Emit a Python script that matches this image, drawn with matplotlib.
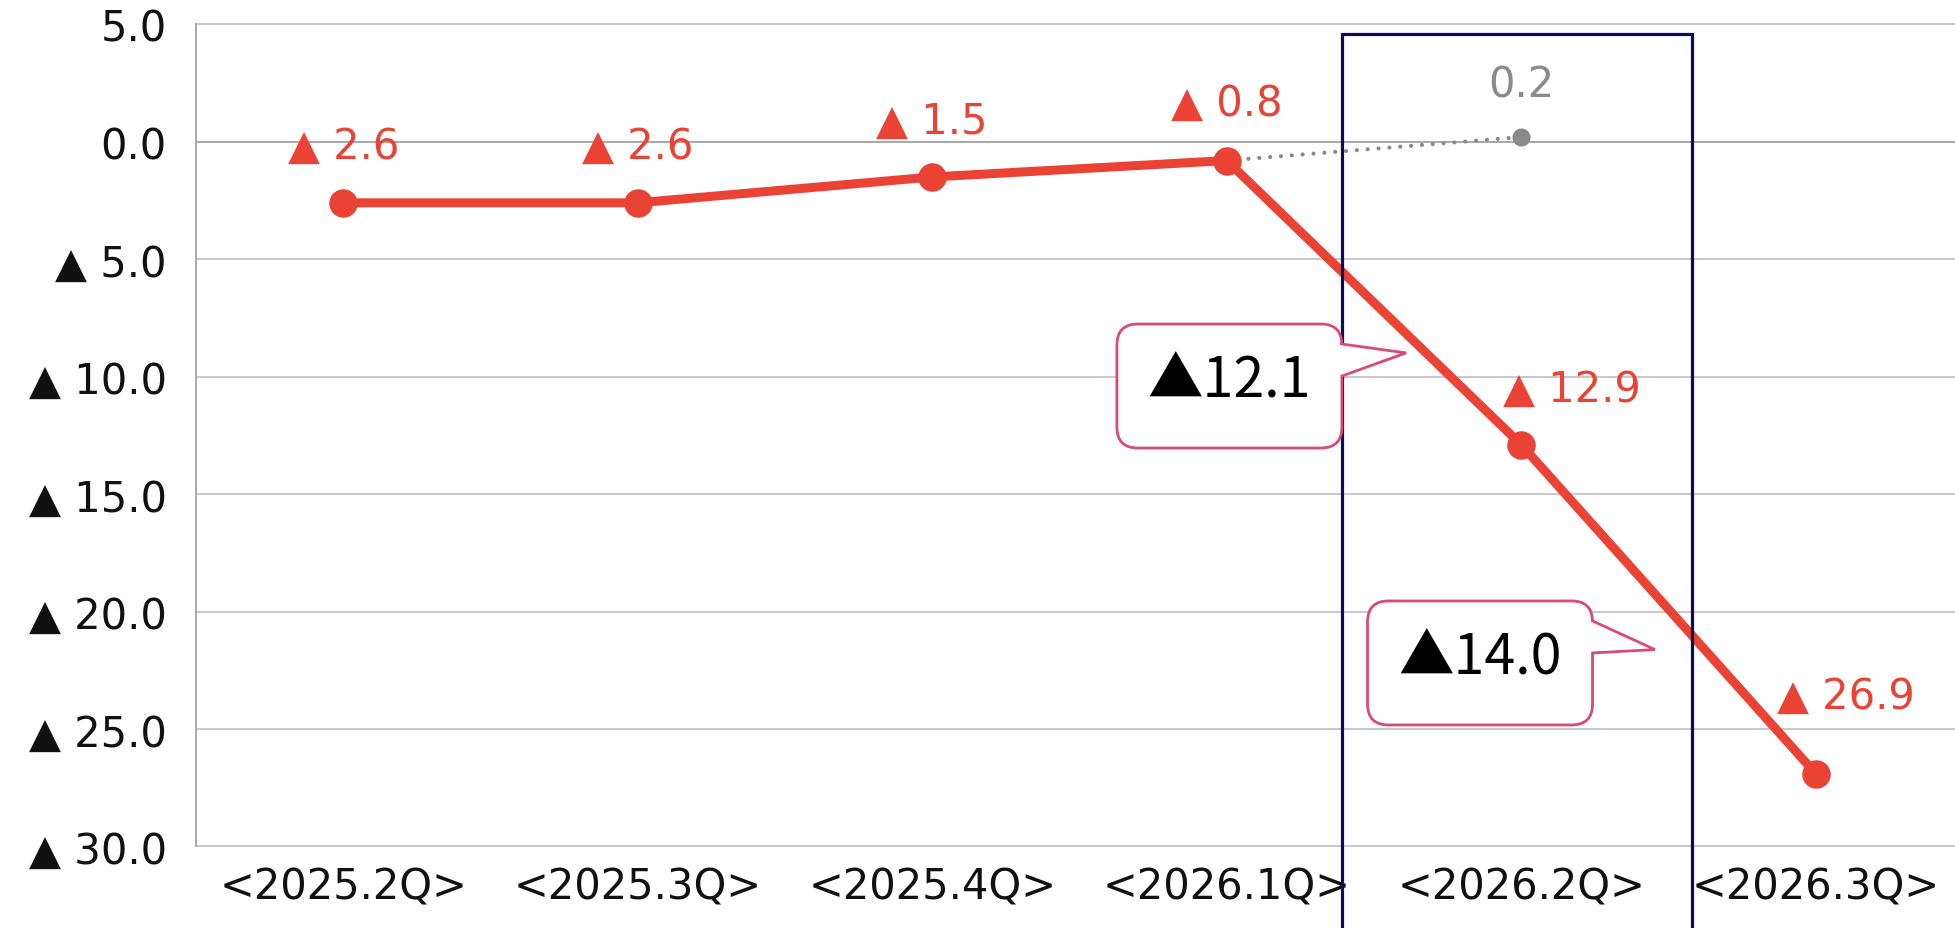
import numpy as np
import matplotlib
matplotlib.use("Agg")
import matplotlib.pyplot as plt
from matplotlib.path import Path
from matplotlib.patches import PathPatch, Rectangle
from matplotlib.transforms import IdentityTransform

# ---------------- data ----------------
categories = ['<2025.2Q>', '<2025.3Q>', '<2025.4Q>', '<2026.1Q>', '<2026.2Q>', '<2026.3Q>']
actual_values = [-2.6, -2.6, -1.5, -0.8, -12.9, -26.9]
plan_values = [np.nan, np.nan, np.nan, -0.8, 0.2, np.nan]
callout_values = [-12.1, -14.0]
y_ticks = [5, 0, -5, -10, -15, -20, -25, -30]

# ---------------- style ----------------
RED = '#EA4335'
GRAY = '#8a8a8a'
NAVY = '#0b0b5c'
PINK = '#D9497A'
GRID = '#c8c8c8'

plt.rcParams['font.family'] = ['DejaVu Sans']

DPI = 100
W, H = 1956, 929
fig = plt.figure(figsize=(W / DPI, H / DPI), dpi=DPI)
ax_left, ax_bottom = 196 / W, 1 - 847.4 / H
ax_w, ax_h = 1767 / W, 822.1 / H
ax = fig.add_axes([ax_left, ax_bottom, ax_w, ax_h])

x = np.arange(len(categories))
ax.set_xlim(-0.5, len(categories) - 0.5)
ax.set_ylim(-30, 5)


def fmt(v):
    return f"▲ {abs(v):.1f}" if v < 0 else f"{v:.1f}"


# grid lines
for t in y_ticks:
    ax.axhline(t, color=('#a8a8a8' if t == 0 else GRID), lw=1.4, zorder=1, clip_on=False)

ax.set_yticks(y_ticks)
ax.set_yticklabels([fmt(t) for t in y_ticks])
ax.set_xticks(x)
ax.set_xticklabels(categories)
ax.tick_params(axis='y', length=0, labelsize=30, pad=21, colors='#111111')
ax.tick_params(axis='x', length=0, labelsize=30, pad=14, colors='#111111')
for s in ['top', 'right', 'bottom']:
    ax.spines[s].set_visible(False)
ax.spines['left'].set_color('#a8a8a8')
ax.spines['left'].set_linewidth(1.4)

# plan (gray dotted)
ax.plot(x, plan_values, color=GRAY, lw=3, linestyle=(0, (0.01, 2.6)),
        dash_capstyle='round', zorder=3)
ax.plot(x[4:5], np.array(plan_values)[4:5], 'o', color=GRAY, markersize=12, zorder=3)

# actual (red)
ax.plot(x, actual_values, color=RED, lw=6.5, marker='o', markersize=19.5,
        solid_capstyle='round', solid_joinstyle='round', zorder=4)

# data labels
label_offsets = [(0, 57), (0, 57), (0, 56), (0, 58), (51, 56), (30, 78)]
for xi, v, off in zip(x, actual_values, label_offsets):
    ax.annotate(fmt(v), (xi, v), xytext=off, textcoords='offset pixels',
                ha='center', va='center', color=RED, fontsize=30, zorder=6)
for xi, v in zip(x, plan_values):
    if xi == 4 and not np.isnan(v):
        ax.annotate(fmt(v), (xi, v), xytext=(0, 53), textcoords='offset pixels',
                    ha='center', va='center', color=GRAY, fontsize=30, zorder=6)

# navy highlight box around 2026.2Q
rect = Rectangle((3.39, -45), 4.58 - 3.39, 4.57 + 45, fill=False,
                 edgecolor=NAVY, lw=2.3, clip_on=False, zorder=5)
ax.add_patch(rect)


# callouts (speech bubbles)
def bubble(center, tip, text, w=225, h=124, r=21, base_top=20, base_bot=52):
    cx, cy = ax.transData.transform(center)
    tx, ty = ax.transData.transform(tip)
    L, R = cx - w / 2, cx + w / 2
    B, T = cy - h / 2, cy + h / 2
    verts = [
        (L + r, B), (R - r, B), (R, B), (R, B + r),
        (R, T - base_bot), (tx, ty), (R, T - base_top),
        (R, T - r), (R, T), (R - r, T),
        (L + r, T), (L, T), (L, T - r),
        (L, B + r), (L, B), (L + r, B),
        (L + r, B),
    ]
    codes = [
        Path.MOVETO, Path.LINETO, Path.CURVE3, Path.CURVE3,
        Path.LINETO, Path.LINETO, Path.LINETO,
        Path.LINETO, Path.CURVE3, Path.CURVE3,
        Path.LINETO, Path.CURVE3, Path.CURVE3,
        Path.LINETO, Path.CURVE3, Path.CURVE3,
        Path.CLOSEPOLY,
    ]
    patch = PathPatch(Path(verts, codes), facecolor='white', edgecolor=PINK,
                      lw=2.0, joinstyle='miter', transform=IdentityTransform(),
                      zorder=7, clip_on=False)
    fig.add_artist(patch)
    fig.text(cx / W, (cy + 5) / H, text, ha='center', va='center', fontsize=40,
             family=['Noto Sans CJK JP', 'DejaVu Sans'], color='black', zorder=8)


bubble((3.009, -10.40), (3.609, -8.99), f"▲{abs(callout_values[0]):.1f}")
bubble((3.860, -22.19), (4.454, -21.62), f"▲{abs(callout_values[1]):.1f}")

fig.savefig('out.png', dpi=DPI)
